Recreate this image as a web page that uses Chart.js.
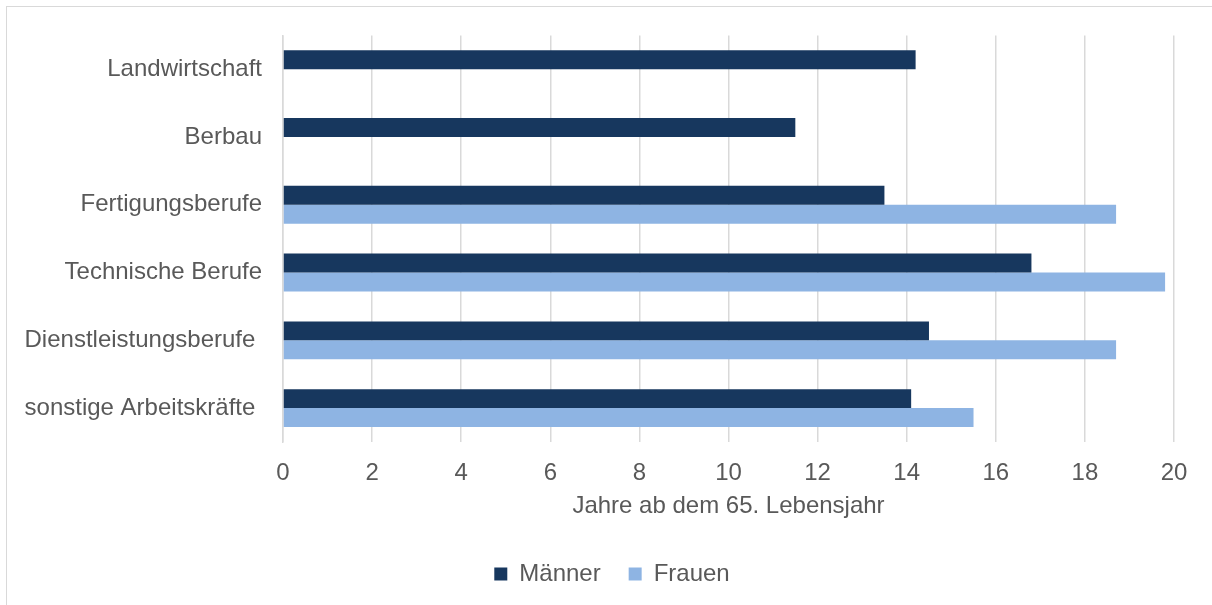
<!DOCTYPE html>
<html>
<head>
<meta charset="utf-8">
<script src="https://cdn.jsdelivr.net/npm/chart.js@4/dist/chart.umd.min.js"></script>
<style>
  html, body { margin: 0; padding: 0; background: #fff; overflow: hidden; }
  #wrap { position: relative; width: 1212px; height: 605px; }
  #frame { position: absolute; left: 6px; top: 6px; width: 1230px; height: 640px; border: 1px solid #d9d9d9; box-sizing: border-box; pointer-events: none; }
  canvas { position: absolute; left: 0; top: 0; }
</style>
</head>
<body>
<div id="wrap">
  <canvas id="c" width="1212" height="605"></canvas>
  <div id="frame"></div>
</div>
<script>
const categories = ["Landwirtschaft", "Berbau", "Fertigungsberufe", "Technische Berufe", "Dienstleistungsberufe ", "sonstige Arbeitskräfte "];
const maenner = [14.2, 11.5, 13.5, 16.8, 14.5, 14.1];
const frauen = [null, null, 18.7, 19.8, 18.7, 15.5];
const seriesNames = ["Männer", "Frauen"];
const xTitle = "Jahre ab dem 65. Lebensjahr";

const FONT = "'Liberation Sans', Arial, sans-serif";
const TXT = "#595959";

new Chart(document.getElementById('c'), {
  type: 'bar',
  data: {
    labels: categories,
    datasets: [
      { label: seriesNames[0], data: maenner, backgroundColor: '#17375e', borderWidth: 0 },
      { label: seriesNames[1], data: frauen, backgroundColor: '#8eb4e3', borderWidth: 0 }
    ]
  },
  options: {
    indexAxis: 'y',
    responsive: false,
    animation: false,
    devicePixelRatio: 1,
    categoryPercentage: 0.56,
    barPercentage: 1.0,
    layout: { padding: { left: 12, right: 0, top: 35, bottom: 9 } },
    plugins: {
      tooltip: { enabled: false },
      legend: {
        position: 'bottom',
        align: 'center',
        labels: {
          boxWidth: 13, boxHeight: 13, padding: 28,
          color: TXT,
          font: { family: FONT, size: 24 }
        }
      }
    },
    scales: {
      x: {
        min: 0, max: 20,
        ticks: { stepSize: 2, color: TXT, padding: 17, font: { family: FONT, size: 24 } },
        grid: { color: '#d9d9d9', lineWidth: 1.5, drawTicks: false },
        border: { display: false },
        title: { display: true, text: xTitle, color: TXT, font: { family: FONT, size: 24 }, padding: { top: 0, bottom: 13 } },
        afterFit: (s) => { s.height = 92; }
      },
      y: {
        ticks: { color: TXT, padding: 21, font: { family: FONT, size: 24 } },
        grid: { display: false, drawTicks: false },
        border: { display: true, color: '#d9d9d9', width: 1.5 },
        afterFit: (s) => { s.width = 271; }
      },
      yRight: {
        type: 'category',
        position: 'right',
        labels: categories,
        ticks: { display: false },
        grid: { display: false, drawTicks: false },
        border: { display: false },
        afterFit: (s) => { s.width = 38; }
      }
    }
  }
});
</script>
</body>
</html>
